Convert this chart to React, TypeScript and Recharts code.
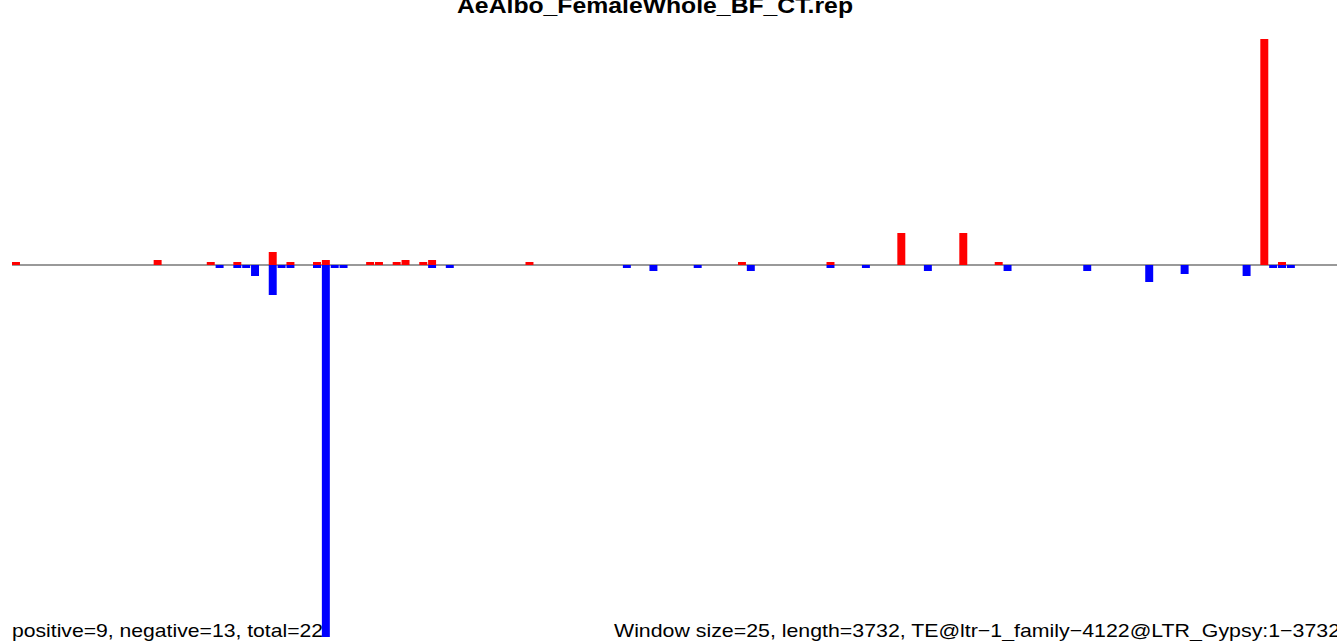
import { BarChart, Bar, XAxis, YAxis, CartesianGrid } from 'recharts';

// 25-bp windows along the 3732-bp element
const WINDOW_COUNT = 150;

// sense (red) signal: window index -> depth
const posWindows = [0, 16, 22, 25, 29, 31, 34, 35, 40, 41, 43, 44, 46, 47, 58, 82, 92, 100, 107, 111, 141, 143];
const posValues = [3, 5, 3, 3, 13, 3, 3, 5, 3, 3, 3, 5, 3, 5, 3, 3, 3, 32, 32, 3, 226, 3];

// antisense (blue) signal: window index -> depth (drawn below the axis)
const negWindows = [23, 25, 26, 27, 29, 30, 31, 34, 35, 36, 37, 47, 49, 69, 72, 77, 83, 92, 96, 103, 112, 121, 128, 132, 139, 142, 143, 144];
const negValues = [3, 3, 3, 11, 30, 3, 3, 3, 372, 3, 3, 3, 3, 3, 6, 3, 6, 3, 3, 6, 6, 6, 17, 9, 11, 3, 3, 3];

const title = 'AeAlbo_FemaleWhole_BF_CT.rep';
const summaryText = 'positive=9, negative=13, total=22';
const infoText = 'Window size=25, length=3732, TE@ltr\u22121_family\u22124122@LTR_Gypsy:1\u22123732';

const data = Array.from({ length: WINDOW_COUNT }, (_, i) => {
  const p = posWindows.indexOf(i);
  const n = negWindows.indexOf(i);
  return {
    win: i,
    pos: p >= 0 ? posValues[p] : 0,
    neg: n >= 0 ? -negValues[n] : 0,
  };
});

const font = '"Liberation Sans", Arial, Helvetica, sans-serif';

export default function App() {
  return (
    <div style={{ position: 'fixed', left: 0, top: 0, width: 1337, height: 641, overflow: 'hidden', background: '#fff' }}>
      <svg width={1337} height={641} style={{ position: 'absolute', left: 0, top: 0 }}>
        <text x={457} y={13} fontFamily={font} fontWeight="bold" fontSize={22} textLength={396} lengthAdjust="spacingAndGlyphs" fill="#000">
          {title}
        </text>
        <text x={12} y={637} fontFamily={font} fontSize={19} textLength={311} lengthAdjust="spacingAndGlyphs" fill="#000">
          {summaryText}
        </text>
        <text x={614} y={637} fontFamily={font} fontSize={19} textLength={726} lengthAdjust="spacingAndGlyphs" fill="#000">
          {infoText}
        </text>
      </svg>
      <div style={{ position: 'absolute', left: 0, top: 0 }}>
        <BarChart
          width={1345}
          height={641}
          data={data}
          stackOffset="sign"
          barCategoryGap={0}
          barGap={0}
          margin={{ top: 39, right: 5, left: 12, bottom: 4 }}
        >
          <CartesianGrid vertical={false} horizontalValues={[0]} stroke="#999999" strokeWidth={2} />
          <XAxis dataKey="win" hide />
          <YAxis hide domain={[-372, 226]} allowDataOverflow />
          <Bar dataKey="pos" stackId="s" fill="#ff0000" barSize={9} isAnimationActive={false} />
          <Bar dataKey="neg" stackId="s" fill="#0000ff" barSize={9} isAnimationActive={false} />
        </BarChart>
      </div>
    </div>
  );
}
